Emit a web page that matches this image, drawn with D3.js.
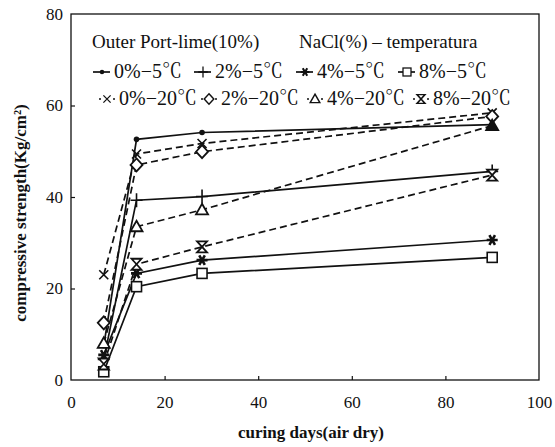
<!DOCTYPE html>
<html><head><meta charset="utf-8">
<script src="https://cdn.jsdelivr.net/npm/d3@7"></script>
<style>body{margin:0;background:#fff}svg{display:block}</style>
</head><body><svg id="c" width="555" height="447"></svg>
<script>
const days = [7, 14, 28, 90];
const seriesNames = ["0%−5℃","2%−5℃","4%−5℃","8%−5℃","0%−20℃","2%−20℃","4%−20℃","8%−20℃"];
const s0m5  = [7.5, 52.6, 54.1, 55.8];
const s2m5  = [4.5, 39.3, 40.1, 45.6];
const s4m5  = [5.5, 23.3, 26.2, 30.6];
const s8m5  = [1.8, 20.4, 23.3, 26.8];
const s0m20 = [23.0, 49.4, 51.7, 58.4];
const s2m20 = [12.5, 47.0, 49.9, 57.6];
const s4m20 = [8.0, 33.5, 37.2, 55.6];
const s8m20 = [3.5, 25.3, 29.1, 44.8];
const xTicks = [0, 20, 40, 60, 80, 100];
const yTicks = [0, 20, 40, 60, 80];
const markers = ["dot","plus","star","square","x","diamond","triangle","hourglass"];
const dashedFlags = [false,false,false,false,true,true,true,true];
const allValues = [s0m5,s2m5,s4m5,s8m5,s0m20,s2m20,s4m20,s8m20];

const FONT = '"Liberation Serif","Noto Serif CJK SC","Noto Sans CJK SC",serif';
const svg = d3.select("#c");
const x = d3.scaleLinear().domain([0,100]).range([71,539]);
const y = d3.scaleLinear().domain([0,80]).range([380,14]);

svg.append("rect").attr("x",71).attr("y",14).attr("width",468).attr("height",366)
  .attr("fill","none").attr("stroke","#111").attr("stroke-width",1.3);

const gx = svg.append("g").attr("transform","translate(0,380)")
  .call(d3.axisBottom(x).tickValues(xTicks).tickSize(-4).tickPadding(16).tickFormat(d3.format("d")));
const gy = svg.append("g").attr("transform","translate(71,0)")
  .call(d3.axisLeft(y).tickValues(yTicks).tickSize(-4).tickPadding(8).tickFormat(d3.format("d")));
[gx,gy].forEach(g=>{
  g.attr("font-family",null).attr("font-size",null);
  g.select(".domain").remove();
  g.selectAll("line").attr("stroke","#111").attr("stroke-width",1.2);
  g.selectAll("text").style("font-family",FONT).style("font-size","17px").attr("fill","#111");
});
gx.selectAll(".tick line").filter(d=>d===0||d===100).remove();
gy.selectAll(".tick line").filter(d=>d===0||d===80).remove();

svg.append("text").attr("transform","translate(26,213) rotate(-90)").attr("text-anchor","middle")
  .style("font-family",FONT).style("font-size","17px").attr("font-weight","bold").attr("fill","#111")
  .text("compressive strength(Kg/cm²)");
svg.append("text").attr("x",311).attr("y",438).attr("text-anchor","middle")
  .style("font-family",FONT).style("font-size","17px").attr("font-weight","bold").attr("fill","#111")
  .text("curing days(air dry)");

function drawMarker(g, type, cx, cy, k){
  k = k||1;
  const s = g.append("g").attr("transform",`translate(${cx},${cy}) scale(${k})`);
  const st = {stroke:"#111","stroke-width":1.6,fill:"none"};
  const ap = (sel,o)=>{for(const a in o) sel.attr(a,o[a]); return sel;};
  if(type==="dot") s.append("circle").attr("r",2.8).attr("fill","#111");
  else if(type==="plus") ap(s.append("path").attr("d","M-6,0H6M0,-7V7"),st);
  else if(type==="star") ap(s.append("path").attr("d","M-5.5,0H5.5M-2.8,-4.8L2.8,4.8M-2.8,4.8L2.8,-4.8"),st).attr("stroke-width",2.6);
  else if(type==="square") ap(s.append("rect").attr("x",-5).attr("y",-5).attr("width",10).attr("height",10),st).attr("fill","#fff");
  else if(type==="x") ap(s.append("path").attr("d","M-4.5,-4.5L4.5,4.5M-4.5,4.5L4.5,-4.5"),st);
  else if(type==="diamond") ap(s.append("path").attr("d","M0,-6.5L6,0L0,6.5L-6,0Z"),st).attr("fill","#fff").attr("stroke-width",1.8);
  else if(type==="triangle") ap(s.append("path").attr("d","M0,-6L6,4.5H-6Z"),st).attr("fill","#fff").attr("stroke-width",1.8);
  else if(type==="hourglass") ap(s.append("path").attr("d","M-5,-5.5H5L-5,5.5H5Z"),st).attr("fill","#fff").attr("stroke-width",1.8);
}

const line = d3.line().x(d=>x(d[0])).y(d=>y(d[1]));
const plot = svg.append("g");
allValues.forEach((vals,i)=>{
  plot.append("path").datum(days.map((d,j)=>[d,vals[j]])).attr("d",line)
    .attr("fill","none").attr("stroke","#111").attr("stroke-width",1.7)
    .attr("stroke-dasharray",dashedFlags[i]?"7,4":null);
});
allValues.forEach((vals,i)=>{
  days.forEach((d,j)=>drawMarker(plot, markers[i], x(d), y(vals[j])));
});
plot.append("path").attr("d","M0,-6L6,4.5H-6Z").attr("transform",`translate(${x(days[3])},${y(s4m20[3])})`).attr("fill","#111");

const lg = svg.append("g");
const tx = (sel,fs)=>sel.style("font-family",FONT).style("font-size",fs+"px").attr("fill","#111");
tx(lg.append("text").attr("x",92).attr("y",48),19).text("Outer Port-lime(10%)");
tx(lg.append("text").attr("x",299).attr("y",48),19).text("NaCl(%) – temperatura");
const colX = [[93, 194, 296, 398],[98, 200, 306, 412]];
seriesNames.forEach((nm,i)=>{
  const row = i<4?0:1, col = i%4;
  const cy = row===0?72:99;
  const sx = colX[row][col];
  const g = lg.append("g");
  if(!dashedFlags[i]){
    g.append("line").attr("x1",sx).attr("x2",sx+17).attr("y1",cy).attr("y2",cy).attr("stroke","#111").attr("stroke-width",1.7);
  } else {
    g.append("line").attr("x1",sx+1).attr("x2",sx+17).attr("y1",cy).attr("y2",cy).attr("stroke","#111").attr("stroke-width",1.7).attr("stroke-dasharray","2,12");
  }
  drawMarker(g, markers[i], sx+9, cy, 0.8);
  tx(g.append("text").attr("x",sx+21).attr("y",cy+6),20).text(nm);
});
</script></body></html>
